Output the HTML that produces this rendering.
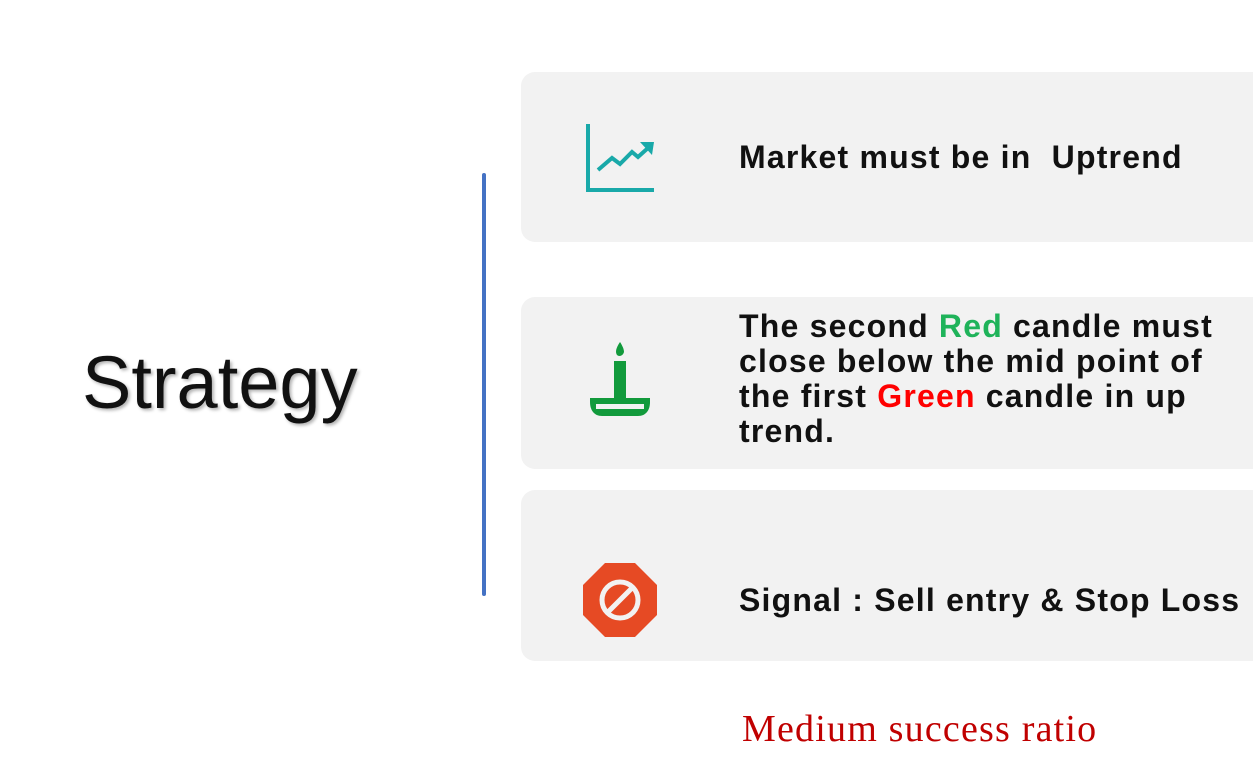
<!DOCTYPE html>
<html><head><meta charset="utf-8"><style>
body{margin:0;width:1253px;height:767px;background:#fff;position:relative;overflow:hidden;font-family:"Liberation Sans",sans-serif}
.card{position:absolute;left:521px;width:760px;background:#f2f2f2;border-radius:14px}
.t{position:absolute;left:739px;font-weight:bold;font-size:32px;color:#111;line-height:35px;letter-spacing:1.2px;white-space:nowrap}
</style></head><body>
<div style="position:absolute;left:82px;top:340px;font-size:74px;color:#111;text-shadow:2px 2px 3px rgba(0,0,0,0.3)">Strategy</div>
<div style="position:absolute;left:482px;top:173px;width:4px;height:423px;background:#4472c4;border-radius:2px"></div>
<div class="card" style="top:72px;height:170px"></div>
<div class="card" style="top:297px;height:172px"></div>
<div class="card" style="top:490px;height:171px"></div>
<svg style="position:absolute;left:584px;top:122px" width="72" height="72" viewBox="0 0 72 72">
<path d="M4 2V68H70" fill="none" stroke="#19a9a9" stroke-width="4"/>
<path d="M14 48L28 36L36 42L48 30L54 35L64 26" fill="none" stroke="#19a9a9" stroke-width="4"/>
<path d="M56 20L70 20L68 33Z" fill="#19a9a9"/></svg>
<svg style="position:absolute;left:588px;top:340px" width="64" height="80" viewBox="0 0 64 80">
<path d="M32 2C28 8 27 12 29 15C31 17 35 16 36 12C36 9 34 5 32 2Z" fill="#129a3c"/>
<rect x="26" y="21" width="12" height="38" fill="#129a3c"/>
<path d="M2 58H62V62C62 70 58 76 50 76H14C6 76 2 70 2 62Z" fill="#129a3c"/>
<rect x="8" y="64" width="48" height="5" fill="#f2f2f2"/></svg>
<svg style="position:absolute;left:583px;top:563px" width="74" height="74" viewBox="0 0 74 74">
<polygon points="22,0 52,0 74,22 74,52 52,74 22,74 0,52 0,22" fill="#e64a24"/>
<circle cx="37" cy="37" r="18" fill="none" stroke="#f2f2f2" stroke-width="5"/>
<line x1="24" y1="50" x2="50" y2="24" stroke="#f2f2f2" stroke-width="5"/></svg>
<div class="t" style="top:140px">Market must be in&nbsp; Uptrend</div>
<div class="t" style="top:309px">The second <span style="color:#1fb35a">Red</span> candle must<br>close below the mid point of<br>the first <span style="color:#f00">Green</span> candle in up<br>trend.</div>
<div class="t" style="top:583px">Signal : Sell entry &amp; Stop Loss</div>
<div style="position:absolute;left:742px;top:707px;font-family:'Liberation Serif',serif;font-size:38px;letter-spacing:1.2px;color:#c00000">Medium success ratio</div>
</body></html>
